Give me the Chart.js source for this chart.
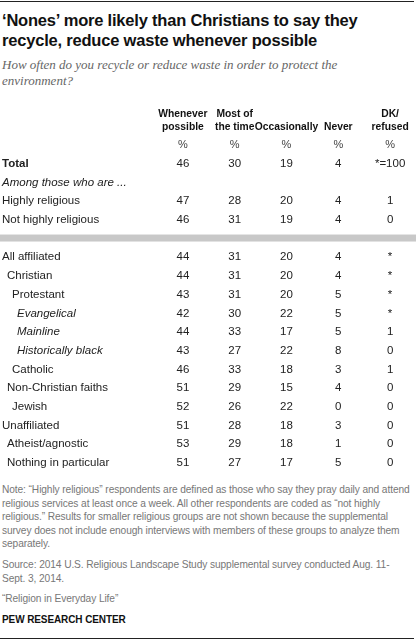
<!DOCTYPE html>
<html>
<head>
<meta charset="utf-8">
<script src="https://cdn.jsdelivr.net/npm/chart.js@4/dist/chart.umd.min.js"></script>
<style>
  body { margin: 0; width: 416px; height: 641px; background: #fff; font-family: "Liberation Sans", Arial, sans-serif; position: relative; overflow: hidden; }
  .rule { position: absolute; left: 0; width: 414px; height: 1px; background: #222; }
  h1 { position: absolute; top: 10px; left: 2px; margin: 0; font-size: 16.5px; line-height: 20px; font-weight: bold; color: #111; letter-spacing: -0.2px; }
  .sub { position: absolute; top: 57px; left: 2px; width: 350px; font-family: "Liberation Serif", serif; font-style: italic; font-size: 13px; line-height: 16px; color: #666; }
  #wrap { position: absolute; top: 100px; left: 0; width: 416px; height: 375px; }
  .notes { position: absolute; top: 483px; left: 2px; width: 410px; font-size: 10.2px; line-height: 13.6px; color: #777; letter-spacing: -0.1px; }
  .notes p { margin: 0 0 7px 0; }
  .brand { font-weight: bold; color: #111; font-size: 10px; }
</style>
</head>
<body>
<div class="rule" style="top:1px"></div>
<h1>‘Nones’ more likely than Christians to say they<br>recycle, reduce waste whenever possible</h1>
<div class="sub">How often do you recycle or reduce waste in order to protect the environment?</div>
<div id="wrap"><canvas id="table"></canvas></div>
<div class="notes">
  <p>Note: “Highly religious” respondents are defined as those who say they pray daily and attend religious services at least once a week. All other respondents are coded as “not highly religious.” Results for smaller religious groups are not shown because the supplemental survey does not include enough interviews with members of these groups to analyze them separately.</p>
  <p>Source: 2014 U.S. Religious Landscape Study supplemental survey conducted Aug. 11-Sept. 3, 2014.</p>
  <p>“Religion in Everyday Life”</p>
  <p class="brand">PEW RESEARCH CENTER</p>
</div>
<div class="rule" style="top:638px"></div>
<script>
// ----- Data -----
const columns = [['Whenever', 'possible'], ['Most of', 'the time'], ['', 'Occasionally'], ['', 'Never'], ['DK/', 'refused']];
const rows = ['Total', 'Among those who are ...', 'Highly religious', 'Not highly religious', '',
  'All affiliated', 'Christian', 'Protestant', 'Evangelical', 'Mainline', 'Historically black',
  'Catholic', 'Non-Christian faiths', 'Jewish', 'Unaffiliated', 'Atheist/agnostic', 'Nothing in particular'];
const rowIndent = [0, 0, 0, 0, 0, 0, 1, 2, 3, 3, 3, 2, 1, 2, 0, 1, 1];
const rowStyle = ['b', 'i', '', '', 'bar', '', '', '', 'i', 'i', 'i', '', '', '', '', '', ''];
const whenever = ['46', '', '47', '46', '', '44', '44', '43', '42', '44', '43', '46', '51', '52', '51', '53', '51'];
const mostTime = ['30', '', '28', '31', '', '31', '31', '31', '30', '33', '27', '33', '29', '26', '28', '29', '27'];
const occasionally = ['19', '', '20', '19', '', '20', '20', '20', '22', '17', '22', '18', '15', '22', '18', '18', '17'];
const never = ['4', '', '4', '4', '', '4', '4', '5', '5', '5', '8', '3', '4', '0', '3', '1', '5'];
const dkRefused = ['*=100', '', '1', '0', '', '*', '*', '*', '*', '1', '0', '1', '0', '0', '0', '0', '0'];
const series = [whenever, mostTime, occasionally, never, dkRefused];

const yLabels = ['%'].concat(rows);
const FONT = '"Liberation Sans", Arial, sans-serif';

// ----- Table drawing plugin -----
const tablePlugin = {
  id: 'tableText',
  afterDatasetsDraw(chart) {
    const c = chart.ctx;
    const xs = chart.scales.x, ys = chart.scales.y;
    const y0 = ys.getPixelForValue(0);
    c.save();
    c.textBaseline = 'middle';
    c.textAlign = 'center';
    columns.forEach((h, i) => {
      const x = xs.getPixelForValue(i);
      c.fillStyle = '#111';
      c.font = 'bold 10.3px ' + FONT;
      c.fillText(h[0], x, y0 - 31);
      c.fillText(h[1], x, y0 - 18);
      c.font = '11px ' + FONT;
      c.fillStyle = '#444';
      c.fillText('%', x, y0);
    });
    rows.forEach((r, ri) => {
      const y = ys.getPixelForValue(ri + 1);
      if (rowStyle[ri] === 'bar') {
        c.fillStyle = '#c8c8c8';
        c.fillRect(0, y - 4, chart.width, 7);
        return;
      }
      c.textAlign = 'left';
      c.fillStyle = '#222';
      c.font = (rowStyle[ri] === 'b' ? 'bold ' : rowStyle[ri] === 'i' ? 'italic ' : '') + '11.5px ' + FONT;
      c.fillText(r, 2 + rowIndent[ri] * 5, y);
      c.textAlign = 'center';
      c.font = '11.5px ' + FONT;
      series.forEach((s, ci) => {
        c.fillText(s[ri], xs.getPixelForValue(ci), y);
      });
    });
    c.restore();
  }
};

// ----- Build chart -----
const points = [];
series.forEach((s, ci) => s.forEach((v, ri) => { if (v !== '') points.push({ x: columns[ci][1], y: rows[ri] }); }));

new Chart(document.getElementById('table'), {
  type: 'scatter',
  data: { datasets: [{ data: points, pointRadius: 0, pointHoverRadius: 0 }] },
  options: {
    responsive: true,
    maintainAspectRatio: false,
    animation: false,
    events: [],
    layout: { padding: { left: 157, right: 0, top: 45, bottom: 12 } },
    plugins: { legend: { display: false }, tooltip: { enabled: false } },
    scales: {
      x: { type: 'category', labels: columns.map(h => h[1]), offset: true, display: false },
      y: { type: 'category', labels: yLabels, offset: false, display: false }
    }
  },
  plugins: [tablePlugin]
});
</script>
</body>
</html>
